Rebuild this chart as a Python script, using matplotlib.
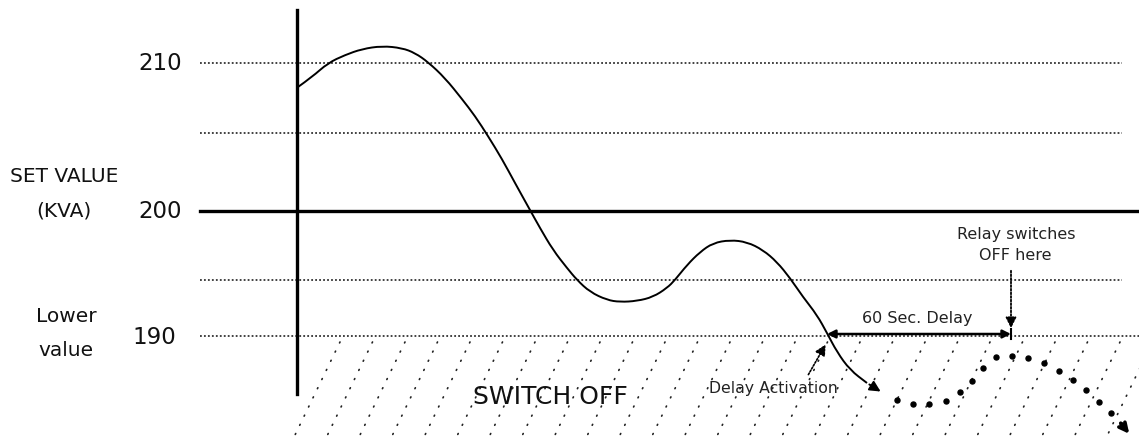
import numpy as np
import matplotlib.pyplot as plt
from matplotlib.path import Path
from matplotlib.patches import PathPatch

# Diagram coordinates (x to the right, y downwards, in picture units)
grid_levels = [63, 133, 280, 336]       # dotted reference lines
set_level = 211                          # solid set-value line (200 KVA)
level_labels = ["210", "200", "190"]
level_label_y = [63, 211, 337]
level_label_x = [182, 182, 176]

# load curve
curve_x = [298, 312, 328, 345, 362, 382, 402, 415, 428, 445, 462, 475, 488, 502,
           515, 530, 540, 553, 567, 577, 590, 607, 620, 637, 653, 667, 675, 687,
           700, 713, 730, 747, 763, 777, 790, 803, 817, 827, 837, 850, 867]
curve_y = [87, 77, 63, 55, 49, 46, 48, 53, 62, 78, 99, 116, 136, 159,
           183, 210, 228, 250, 268, 280, 292, 300, 302, 301, 297, 288, 280, 265,
           252, 243, 240, 242, 250, 262, 278, 297, 315, 333, 352, 370, 383]
curve_tip = (883, 393)

# dotted continuation after relay switches off
cont_x = [897, 913, 929, 946, 960, 972, 983, 996, 1012, 1028, 1044, 1059, 1073,
          1086, 1099, 1111, 1122]
cont_y = [400, 404, 404, 401, 392, 381, 368, 357, 356, 358, 363, 371, 380,
          390, 402, 413, 425]

fig = plt.figure(figsize=(11.39, 4.41), dpi=100)
ax = fig.add_axes([0, 0, 1, 1])
ax.set_xlim(0, 1139)
ax.set_ylim(441, 0)
ax.axis("off")

# hatched "switch off" zone
for xt in np.arange(340, 1160, 32.5):
    ax.plot([xt, xt - 45], [342, 435], color="#222", lw=1.2,
            linestyle=(0, (0.6, 5.5)), dash_capstyle="round", zorder=1)

# reference lines
for yl in grid_levels:
    x_end = 1139 if yl == 336 else 1122
    ax.plot([200, x_end], [yl, yl], color="#333", lw=1.3,
            linestyle=(0, (1, 1.2)), zorder=2)
ax.plot([200, 1139], [set_level, set_level], color="black", lw=2.4, zorder=3)
ax.plot([297, 297], [10, 394], color="black", lw=2.4, zorder=3)

# load curve, drawn as a smooth quadratic path through the read points
pts = list(zip(curve_x, curve_y))
verts = [pts[0]]
codes = [Path.MOVETO]
for i in range(1, len(pts) - 1):
    mid = ((pts[i][0] + pts[i + 1][0]) / 2, (pts[i][1] + pts[i + 1][1]) / 2)
    verts += [pts[i], mid]
    codes += [Path.CURVE3, Path.CURVE3]
verts.append(pts[-1])
codes.append(Path.LINETO)
ax.add_patch(PathPatch(Path(verts, codes), facecolor="none",
                       edgecolor="black", lw=1.4, zorder=4))
ax.annotate("", xy=curve_tip, xytext=(curve_x[-1], curve_y[-1]),
            arrowprops=dict(arrowstyle="-|>", color="black", lw=1.4,
                            mutation_scale=16), zorder=4)

ax.plot(cont_x, cont_y, "o", color="black", markersize=3.6, zorder=4)
ax.annotate("", xy=(1131, 436), xytext=(1119, 421),
            arrowprops=dict(arrowstyle="->", color="black", lw=2.6,
                            mutation_scale=14))

# labels on the left
font = "DejaVu Sans"
for lab, xl, yl in zip(level_labels, level_label_x, level_label_y):
    ax.text(xl, yl, lab, ha="right", va="center", fontsize=16.5,
            family=font, color="#111")
ax.text(64, 176, "SET VALUE", ha="center", va="center", fontsize=14.5,
        family=font, color="#111")
ax.text(64, 211, "(KVA)", ha="center", va="center", fontsize=14.5,
        family=font, color="#111")
ax.text(66, 317, "Lower", ha="center", va="center", fontsize=14.5,
        family=font, color="#111")
ax.text(66, 350, "value", ha="center", va="center", fontsize=14.5,
        family=font, color="#111")

# annotations
ax.text(1016, 235, "Relay switches", ha="center", va="center", fontsize=11.5,
        family=font, color="#222")
ax.text(1015, 256, "OFF here", ha="center", va="center", fontsize=11.5,
        family=font, color="#222")
ax.annotate("", xy=(1011, 331), xytext=(1011, 268),
            arrowprops=dict(arrowstyle="-|>", color="black", lw=1.3,
                            linestyle=(0, (1, 1)), mutation_scale=16))

ax.text(917, 318, "60 Sec. Delay", ha="center", va="center", fontsize=11.5,
        family=font, color="#222")
ax.annotate("", xy=(827, 334), xytext=(1011, 334),
            arrowprops=dict(arrowstyle="<|-|>", color="black", lw=1.8,
                            mutation_scale=12, shrinkA=0, shrinkB=0))
ax.plot([1011, 1011], [329, 339], color="black", lw=1.5)

ax.text(773, 388, "Delay Activation", ha="center", va="center", fontsize=11.3,
        family=font, color="#222")
ax.annotate("", xy=(827, 342), xytext=(807, 377),
            arrowprops=dict(arrowstyle="-|>", color="black", lw=1.2,
                            linestyle=(0, (1, 1)), mutation_scale=16))

ax.text(550, 397, "SWITCH OFF", ha="center", va="center", fontsize=18,
        family=font, color="#111")

fig.savefig("out.png", dpi=100)
